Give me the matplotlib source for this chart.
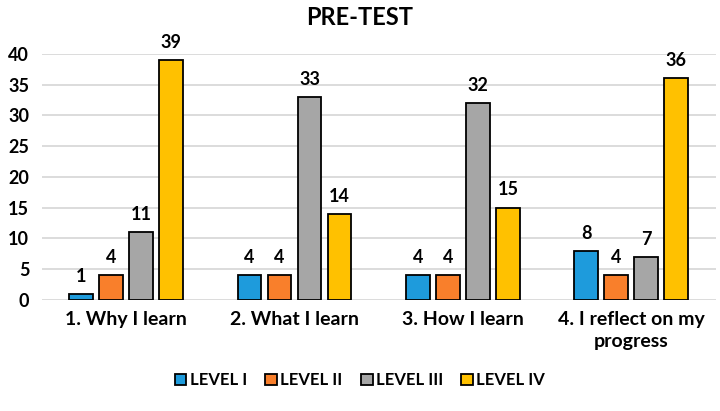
import numpy as np
import matplotlib
matplotlib.use("Agg")
import matplotlib.pyplot as plt

plt.rcParams['font.family'] = ['Lato', 'DejaVu Sans']
plt.rcParams['font.weight'] = 'bold'

categories = ["1. Why I learn", "2. What I learn", "3. How I learn", "4. I reflect on my\nprogress"]
levels = ["LEVEL I", "LEVEL II", "LEVEL III", "LEVEL IV"]
level_1 = [1, 4, 4, 8]
level_2 = [4, 4, 4, 4]
level_3 = [11, 33, 32, 7]
level_4 = [39, 14, 15, 36]
colors = ["#1E9BDC", "#F97F2B", "#A6A6A6", "#FFC100"]

series = [level_1, level_2, level_3, level_4]

fig = plt.figure(figsize=(7.2, 4.11), dpi=100)
ax = fig.add_axes([0.058, 0.27, 0.936, 0.599])

x = np.arange(len(categories))
step = 0.178
width = 0.142
for i, (vals, lab, col) in enumerate(zip(series, levels, colors)):
    pos = x + (i - 1.5) * step
    bars = ax.bar(pos, vals, width, color=col, edgecolor="black", linewidth=1.3,
                  label=lab, zorder=3)
    for b, v in zip(bars, vals):
        ax.text(b.get_x() + b.get_width() / 2, v + 1.5, str(v), ha="center",
                va="bottom", fontsize=13, fontweight="bold", clip_on=False)

ax.set_xlim(-0.5, len(categories) - 0.5)
ax.set_ylim(0, 40)
ax.set_yticks(range(0, 41, 5))
ax.set_xticks(x)
ax.set_xticklabels(categories, fontsize=14, fontweight="bold", linespacing=1.35)
ax.tick_params(axis="y", labelsize=13, length=0, pad=9)
ax.tick_params(axis="x", length=0, pad=8)
ax.grid(axis="y", color="#D9D9D9", linewidth=1.3, zorder=0)
for s in ax.spines.values():
    s.set_visible(False)
for lbl in ax.get_yticklabels():
    lbl.set_fontweight("bold")

fig.suptitle("PRE-TEST", fontsize=17, fontweight="bold", y=0.985)
fig.legend(loc="center", bbox_to_anchor=(0.5, 0.075), ncol=4, frameon=False,
           fontsize=12, handlelength=0.7, handleheight=0.7, columnspacing=1.1,
           handletextpad=0.2)

fig.savefig("out.png", dpi=100)
